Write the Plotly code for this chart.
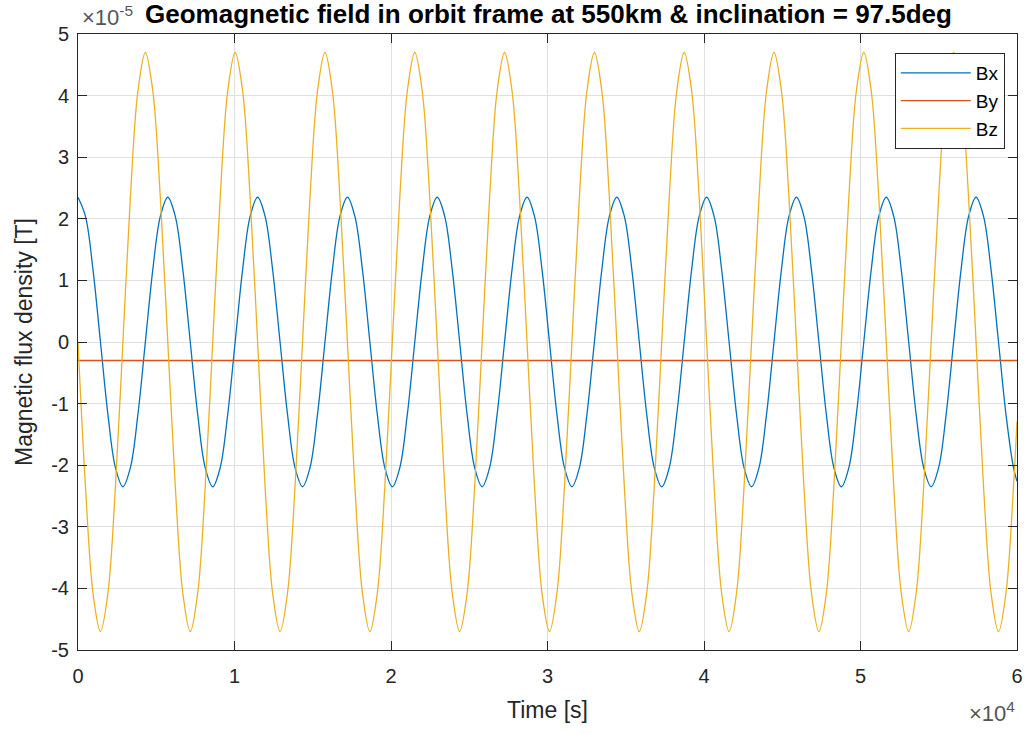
import plotly.graph_objects as go

# Time samples [s] (~1/12 orbit apart)
time_s = [
    0, 478, 956, 1435, 1913, 2391, 2869, 3347, 3826, 4304, 4782, 5260,
    5738, 6217, 6695, 7173, 7651, 8129, 8608, 9086, 9564, 10042, 10520, 10999,
    11477, 11955, 12433, 12911, 13390, 13868, 14346, 14824, 15302, 15781, 16259, 16737,
    17215, 17693, 18172, 18650, 19128, 19606, 20084, 20563, 21041, 21519, 21997, 22475,
    22954, 23432, 23910, 24388, 24866, 25345, 25823, 26301, 26779, 27257, 27736, 28214,
    28692, 29170, 29648, 30127, 30605, 31083, 31561, 32039, 32518, 32996, 33474, 33952,
    34430, 34909, 35387, 35865, 36343, 36821, 37300, 37778, 38256, 38734, 39212, 39691,
    40169, 40647, 41125, 41603, 42082, 42560, 43038, 43516, 43994, 44473, 44951, 45429,
    45907, 46385, 46864, 47342, 47820, 48298, 48776, 49255, 49733, 50211, 50689, 51167,
    51646, 52124, 52602, 53080, 53558, 54037, 54515, 54993, 55471, 55949, 56428, 56906,
    57384, 57862, 58340, 58819, 59297, 59775, 60000,
]

# Field components in units of 1e-5 T
bx = [
    2.35, 2.04, 1.18, 0, -1.18, -2.04, -2.35, -2.04, -1.18, 0, 1.18, 2.04,
    2.35, 2.04, 1.18, 0, -1.18, -2.04, -2.35, -2.04, -1.18, 0, 1.18, 2.04,
    2.35, 2.04, 1.18, 0, -1.18, -2.04, -2.35, -2.04, -1.18, 0, 1.18, 2.04,
    2.35, 2.04, 1.18, 0, -1.18, -2.04, -2.35, -2.04, -1.18, 0, 1.18, 2.04,
    2.35, 2.04, 1.18, 0, -1.18, -2.04, -2.35, -2.04, -1.18, 0, 1.18, 2.04,
    2.35, 2.04, 1.18, 0, -1.18, -2.04, -2.35, -2.04, -1.18, 0, 1.18, 2.04,
    2.35, 2.04, 1.18, 0, -1.18, -2.04, -2.35, -2.04, -1.18, 0, 1.18, 2.04,
    2.35, 2.04, 1.18, 0, -1.18, -2.04, -2.35, -2.04, -1.18, 0, 1.18, 2.04,
    2.35, 2.04, 1.18, 0, -1.18, -2.04, -2.35, -2.04, -1.18, 0, 1.18, 2.04,
    2.35, 2.04, 1.18, 0, -1.18, -2.04, -2.35, -2.04, -1.18, 0, 1.18, 2.04,
    2.35, 2.04, 1.18, 0, -1.18, -2.04, -2.26,
]
bz = [
    0, -2.35, -4.07, -4.7, -4.07, -2.35, 0, 2.35, 4.07, 4.7, 4.07, 2.35,
    0, -2.35, -4.07, -4.7, -4.07, -2.35, 0, 2.35, 4.07, 4.7, 4.07, 2.35,
    0, -2.35, -4.07, -4.7, -4.07, -2.35, 0, 2.35, 4.07, 4.7, 4.07, 2.35,
    0, -2.35, -4.07, -4.7, -4.07, -2.35, 0, 2.35, 4.07, 4.7, 4.07, 2.35,
    0, -2.35, -4.07, -4.7, -4.07, -2.35, 0, 2.35, 4.07, 4.7, 4.07, 2.35,
    0, -2.35, -4.07, -4.7, -4.07, -2.35, 0, 2.35, 4.07, 4.7, 4.07, 2.35,
    0, -2.35, -4.07, -4.7, -4.07, -2.35, 0, 2.35, 4.07, 4.7, 4.07, 2.35,
    0, -2.35, -4.07, -4.7, -4.07, -2.35, 0, 2.35, 4.07, 4.7, 4.07, 2.35,
    0, -2.35, -4.07, -4.7, -4.07, -2.35, 0, 2.35, 4.07, 4.7, 4.07, 2.35,
    0, -2.35, -4.07, -4.7, -4.07, -2.35, 0, 2.35, 4.07, 4.7, 4.07, 2.35,
    0, -2.35, -4.07, -4.7, -4.07, -2.35, -1.29,
]
by_time = [0, 60000]
by = [-0.3, -0.3]

x_tickvals = [0, 10000, 20000, 30000, 40000, 50000, 60000]
x_ticktext = ["0", "1", "2", "3", "4", "5", "6"]
y_tickvals = [-5, -4, -3, -2, -1, 0, 1, 2, 3, 4, 5]
y_ticktext = ["-5", "-4", "-3", "-2", "-1", "0", "1", "2", "3", "4", "5"]

FONT = "Liberation Sans, Arial, sans-serif"
AX = "#262626"

fig = go.Figure()
fig.add_trace(go.Scatter(x=time_s, y=bx, name="Bx", mode="lines",
                         line=dict(color="#0072BD", width=1.3, shape="spline"),
                         legendgroup="a"))
fig.add_trace(go.Scatter(x=by_time, y=by, name="By", mode="lines",
                         line=dict(color="#D95319", width=1.3),
                         legendgroup="b"))
fig.add_trace(go.Scatter(x=time_s, y=bz, name="Bz", mode="lines",
                         line=dict(color="#EDB120", width=1.3, shape="spline"),
                         legendgroup="c"))

axis_common = dict(
    showline=True, linecolor=AX, linewidth=1, mirror="ticks",
    ticks="inside", ticklen=9, tickcolor=AX, tickwidth=1,
    showgrid=True, gridcolor="#e0e0e0", gridwidth=1,
    zeroline=False, tickfont=dict(family=FONT, size=20, color=AX),
)

fig.update_layout(
    width=1035, height=734,
    margin=dict(l=78, r=16, t=34, b=84),
    paper_bgcolor="white", plot_bgcolor="white",
    title=dict(text="Geomagnetic field in orbit frame at 550km & inclination = 97.5deg",
               font=dict(family=FONT, size=26, color="black", weight="bold"),
               x=(78 + 1019) / 2 / 1035, xanchor="center",
               y=1 - 14 / 734, yanchor="middle", yref="container"),
    xaxis=dict(range=[0, 60000], tickvals=x_tickvals, ticktext=x_ticktext,
               ticklabelstandoff=8,
               title=dict(text="Time [s]", font=dict(family=FONT, size=23, color=AX),
                          standoff=15),
               **axis_common),
    yaxis=dict(range=[-5, 5], tickvals=y_tickvals, ticktext=y_ticktext,
               ticklabelstandoff=4,
               title=dict(text="Magnetic flux density [T]",
                          font=dict(family=FONT, size=23, color=AX), standoff=12),
               **axis_common),
    showlegend=True,
    legend=dict(x=0.987, xanchor="right", y=0.969, yanchor="top",
                bgcolor="white", bordercolor=AX, borderwidth=1,
                font=dict(family=FONT, size=19, color="black"),
                itemwidth=70, tracegroupgap=0),
    annotations=[
        dict(text="×10<sup>-5</sup>", xref="paper", yref="paper",
             x=0.002, xanchor="left", y=1, yanchor="bottom", yshift=2,
             showarrow=False, font=dict(family=FONT, size=22, color="#555555")),
        dict(text="×10<sup>4</sup>", xref="paper", yref="paper",
             x=1.0, xanchor="right", y=-0.1, yanchor="middle",
             showarrow=False, font=dict(family=FONT, size=22, color="#555555")),
    ],
)

fig.write_html("out.html", config={"displayModeBar": False},
               post_script="document.body.style.margin='0';document.body.style.overflow='hidden';")
